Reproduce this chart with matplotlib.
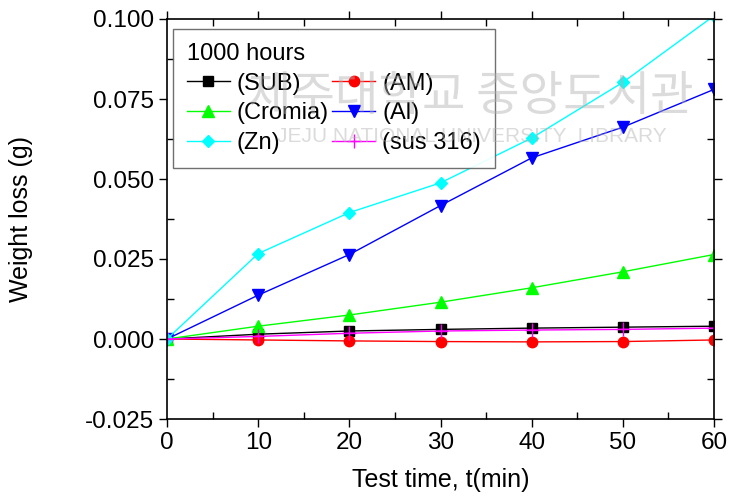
import numpy as np
import matplotlib.pyplot as plt
from matplotlib.ticker import MultipleLocator

plt.rcParams['font.family'] = ['Liberation Sans', 'DejaVu Sans']

# -- Data --
time_min = [0, 10, 20, 30, 40, 50, 60]
sub = [0.0, 0.0015, 0.0025, 0.0030, 0.0034, 0.0037, 0.0040]
am = [0.0, -0.0003, -0.0006, -0.0008, -0.0009, -0.0008, -0.0003]
cromia = [0.0, 0.0040, 0.0075, 0.0115, 0.0160, 0.0210, 0.0264]
al = [0.0, 0.0137, 0.0264, 0.0417, 0.0566, 0.0662, 0.0780]
zn = [0.0, 0.0267, 0.0395, 0.0488, 0.0628, 0.0802, 0.1010]
sus316 = [0.0, 0.0008, 0.0018, 0.0025, 0.0028, 0.0030, 0.0034]

labels = ["(SUB)", "(AM)", "(Cromia)", "(Al)", "(Zn)", "(sus 316)"]

# -- Plotting --
fig = plt.figure(figsize=(7.3, 5), dpi=100)
ax = fig.add_axes([0.2288, 0.162, 0.7493, 0.80])

l_sub, = ax.plot(time_min, sub, color='black', marker='s', ms=7, lw=1, label=labels[0])
l_am, = ax.plot(time_min, am, color='red', marker='o', ms=7.5, lw=1, label=labels[1])
l_cr, = ax.plot(time_min, cromia, color='#00ff00', marker='^', ms=9, lw=1, label=labels[2])
l_al, = ax.plot(time_min, al, color='blue', marker='v', ms=9, lw=1, label=labels[3])
l_zn, = ax.plot(time_min, zn, color='cyan', marker='D', ms=6.5, lw=1, label=labels[4])
l_sus, = ax.plot(time_min, sus316, color='magenta', marker='+', ms=10, mew=1, lw=1, label=labels[5])

ax.set_xlim(0, 60)
ax.set_ylim(-0.025, 0.100)
ax.xaxis.set_major_locator(MultipleLocator(10))
ax.xaxis.set_minor_locator(MultipleLocator(5))
ax.yaxis.set_major_locator(MultipleLocator(0.025))
ax.yaxis.set_minor_locator(MultipleLocator(0.0125))
ax.yaxis.set_major_formatter(plt.FormatStrFormatter('%.3f'))

ax.tick_params(which='major', direction='out', length=6, width=1, labelsize=17.5)
ax.tick_params(which='minor', direction='in', length=5, width=1)
ax.tick_params(which='both', top=True, right=True)
for s in ax.spines.values():
    s.set_linewidth(1.2)

ax.set_xlabel("Test time, t(min)", fontsize=18, labelpad=10)
ax.set_ylabel("Weight loss (g)", fontsize=18)
ax.yaxis.set_label_coords(-0.245, 0.5)

# legend filled row by row: (SUB) (AM) / (Cromia) (Al) / (Zn) (sus 316)
handles = [l_sub, l_cr, l_zn, l_am, l_al, l_sus]
leg = ax.legend(handles, [h.get_label() for h in handles], ncol=2,
                loc='upper left', bbox_to_anchor=(0.011, 0.975),
                title="1000 hours", fontsize=17, title_fontsize=17,
                fancybox=False, edgecolor='#606060', framealpha=0.9,
                handlelength=1.8, columnspacing=0.15, handletextpad=0.3,
                labelspacing=0.32, borderpad=0.6, borderaxespad=0)
leg._legend_box.align = 'left'
leg.get_frame().set_linewidth(1)

# library watermark over the plot
ax.text(0.555, 0.805, "제주대학교 중앙도서관", transform=ax.transAxes,
        fontsize=34, color='#b0b0b0', alpha=0.45, ha='center', va='center',
        family=['Noto Sans CJK KR', 'DejaVu Sans'], zorder=10)
ax.text(0.557, 0.705, "JEJU NATIONAL UNIVERSITY  LIBRARY", transform=ax.transAxes,
        fontsize=15, color='#b0b0b0', alpha=0.45, ha='center', va='center', zorder=10)

plt.savefig("out.png", dpi=100)
